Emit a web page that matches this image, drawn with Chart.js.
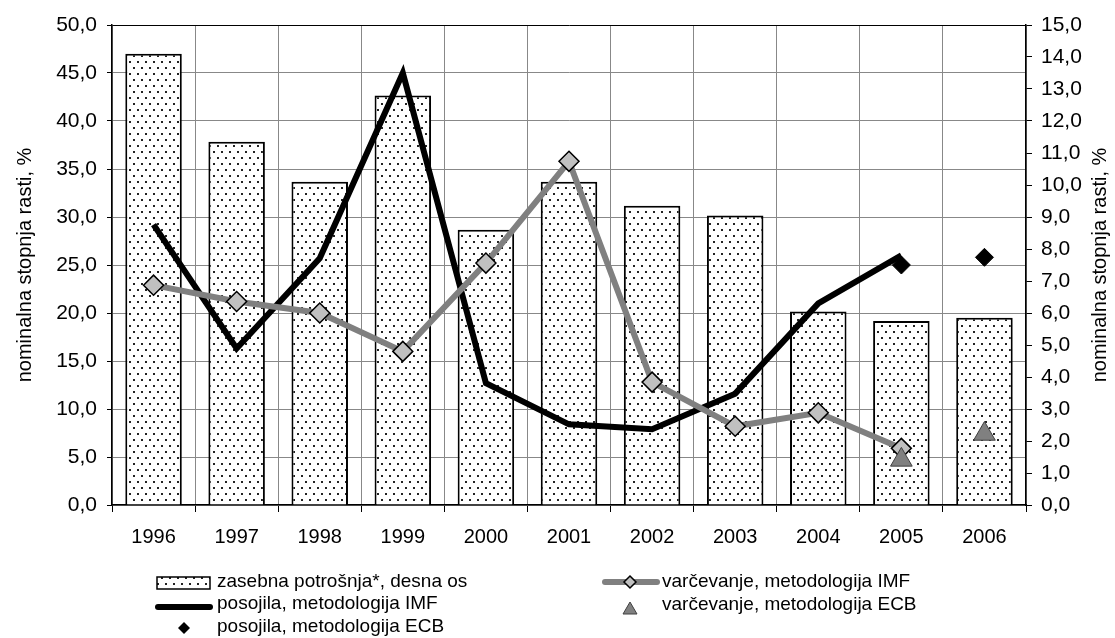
<!DOCTYPE html>
<html>
<head>
<meta charset="utf-8">
<script src="https://cdn.jsdelivr.net/npm/chart.js@4.4.1/dist/chart.umd.min.js"></script>
<style>
html, body { margin: 0; padding: 0; background: #fff; }
#wrap { position: relative; width: 1115px; height: 638px; font-family: "Liberation Sans", Arial, sans-serif; }
#chart { position: absolute; left: 0; top: 0; }
#swatches { position: absolute; left: 0; top: 0; pointer-events: none; }
.lg { position: absolute; font-size: 19px; line-height: 22px; color: #000; white-space: nowrap; }
</style>
</head>
<body>
<div id="wrap">
  <canvas id="chart" width="1115" height="638"></canvas>
  <svg id="swatches" width="1115" height="638">
    <defs>
      <pattern id="dots" width="8" height="12" patternUnits="userSpaceOnUse">
        <rect width="8" height="12" fill="#fff"/>
        <rect x="1" y="1" width="2" height="2" fill="#222"/>
        <rect x="5" y="7" width="2" height="2" fill="#222"/>
      </pattern>
    </defs>
    <rect x="157" y="577" width="53" height="12" fill="url(#dots)" stroke="#000" stroke-width="1.5"/>
    <line x1="158" y1="607" x2="210" y2="607" stroke="#000" stroke-width="6" stroke-linecap="round"/>
    <polygon points="184,622 190,628 184,634 178,628" fill="#000"/>
    <line x1="605" y1="582" x2="657" y2="582" stroke="#808080" stroke-width="6" stroke-linecap="round"/>
    <polygon points="630,576 636,582 630,588 624,582" fill="#c0c0c0" stroke="#000" stroke-width="1.5"/>
    <polygon points="630,602 637,614 623,614" fill="#808080" stroke="#404040" stroke-width="1"/>
  </svg>
  <div class="lg" style="left:217px; top:570px;">zasebna potrošnja*, desna os</div>
  <div class="lg" style="left:217px; top:592px;">posojila, metodologija IMF</div>
  <div class="lg" style="left:217px; top:615px;">posojila, metodologija ECB</div>
  <div class="lg" style="left:662px; top:570px;">varčevanje, metodologija IMF</div>
  <div class="lg" style="left:662px; top:593px;">varčevanje, metodologija ECB</div>
</div>
<script>
// kategorije in vrednosti
const years = ['1996', '1997', '1998', '1999', '2000', '2001', '2002', '2003', '2004', '2005', '2006'];
const zasebnaPotrosnja = [14.1, 11.35, 10.1, 12.8, 8.6, 10.1, 9.35, 9.05, 6.05, 5.75, 5.85];
const posojilaIMF = [29.2, 16.3, 25.7, 45.0, 12.7, 8.4, 7.9, 11.6, 21.0, 26.0, null];
const varcevanjeIMF = [22.9, 21.2, 20.0, 16.0, 25.2, 35.8, 12.8, 8.2, 9.6, 5.9, null];
const posojilaECB = [null, null, null, null, null, null, null, null, null, 25.0, 25.8];
const varcevanjeECB = [null, null, null, null, null, null, null, null, null, 4.7, 7.4];
const axisTitle = 'nominalna stopnja rasti, %';

const FONT = '"Liberation Sans", Arial, sans-serif';
Chart.defaults.font.family = FONT;
Chart.defaults.font.size = 20;
Chart.defaults.color = '#000';

// pikast vzorec za stolpce
function dotPattern() {
    const c = document.createElement('canvas');
    c.width = 8; c.height = 12;
    const g = c.getContext('2d');
    g.fillStyle = '#fff';
    g.fillRect(0, 0, 8, 12);
    g.fillStyle = '#222';
    g.fillRect(1, 1, 2, 2);
    g.fillRect(5, 7, 2, 2);
    return g.createPattern(c, 'repeat');
}

const fmt = v => Number(v).toFixed(1).replace('.', ',');

// naslova osi (oba berljiva od spodaj navzgor)
const axisTitles = {
    id: 'axisTitles',
    afterDraw(chart) {
        const { ctx, chartArea } = chart;
        const cy = (chartArea.top + chartArea.bottom) / 2;
        ctx.save();
        ctx.font = '20px ' + FONT;
        ctx.fillStyle = '#000';
        ctx.textAlign = 'center';
        ctx.textBaseline = 'middle';
        [chart.scales.y.left + 25, chart.scales.y1.right - 15].forEach(x => {
            ctx.save();
            ctx.translate(x, cy);
            ctx.rotate(-Math.PI / 2);
            ctx.fillText(axisTitle, 0, 0);
            ctx.restore();
        });
        ctx.restore();
    }
};

const ctx = document.getElementById('chart').getContext('2d');
new Chart(ctx, {
    data: {
        labels: years,
        datasets: [
            {
                type: 'line',
                label: 'varčevanje, metodologija ECB',
                data: varcevanjeECB,
                yAxisID: 'y',
                showLine: false,
                pointStyle: 'triangle',
                pointRadius: 12.5,
                pointBackgroundColor: '#808080',
                pointBorderColor: '#404040',
                pointBorderWidth: 1,
                order: 1
            },
            {
                type: 'line',
                label: 'posojila, metodologija ECB',
                data: posojilaECB,
                yAxisID: 'y',
                showLine: false,
                pointStyle: 'rectRot',
                pointRadius: 9,
                pointBackgroundColor: '#000',
                pointBorderColor: '#000',
                pointBorderWidth: 1,
                order: 2
            },
            {
                type: 'line',
                label: 'varčevanje, metodologija IMF',
                data: varcevanjeIMF,
                yAxisID: 'y',
                borderColor: '#808080',
                borderWidth: 6,
                tension: 0,
                pointStyle: 'rectRot',
                pointRadius: 10,
                pointBackgroundColor: '#c0c0c0',
                pointBorderColor: '#000',
                pointBorderWidth: 1.5,
                order: 3
            },
            {
                type: 'line',
                label: 'posojila, metodologija IMF',
                data: posojilaIMF,
                yAxisID: 'y',
                borderColor: '#000',
                borderWidth: 6,
                tension: 0,
                pointRadius: 0,
                order: 4
            },
            {
                type: 'bar',
                label: 'zasebna potrošnja*, desna os',
                data: zasebnaPotrosnja,
                yAxisID: 'y1',
                backgroundColor: dotPattern(),
                borderColor: '#000',
                borderWidth: 2,
                borderSkipped: 'bottom',
                barPercentage: 0.68,
                categoryPercentage: 1,
                order: 5
            }
        ]
    },
    options: {
        responsive: false,
        animation: false,
        events: [],
        layout: { padding: { top: 25, left: 0, right: 0, bottom: 0 } },
        plugins: { legend: { display: false }, tooltip: { enabled: false } },
        scales: {
            x: {
                offset: true,
                afterFit: s => { s.height = 133; },
                grid: { offset: true, color: '#888', tickColor: '#000', tickLength: 7 },
                border: { color: '#000', width: 1.5 },
                ticks: { padding: 13, font: { size: 20 } }
            },
            y: {
                position: 'left',
                min: 0, max: 50,
                afterFit: s => { s.width = 112; },
                grid: {
                    color: c => (c.tick && c.tick.value === 50 ? '#000' : '#888'),
                    tickColor: '#000',
                    tickLength: 5
                },
                border: { color: '#000', width: 1.5 },
                ticks: { stepSize: 5, padding: 10, callback: fmt, font: { size: 21 } }
            },
            y1: {
                position: 'right',
                min: 0, max: 15,
                afterFit: s => { s.width = 89; },
                grid: { drawOnChartArea: false, tickColor: '#000', tickLength: 6 },
                border: { color: '#000', width: 1.5 },
                ticks: { stepSize: 1, padding: 9, callback: fmt, font: { size: 21 } }
            }
        }
    },
    plugins: [axisTitles]
});
</script>
</body>
</html>
